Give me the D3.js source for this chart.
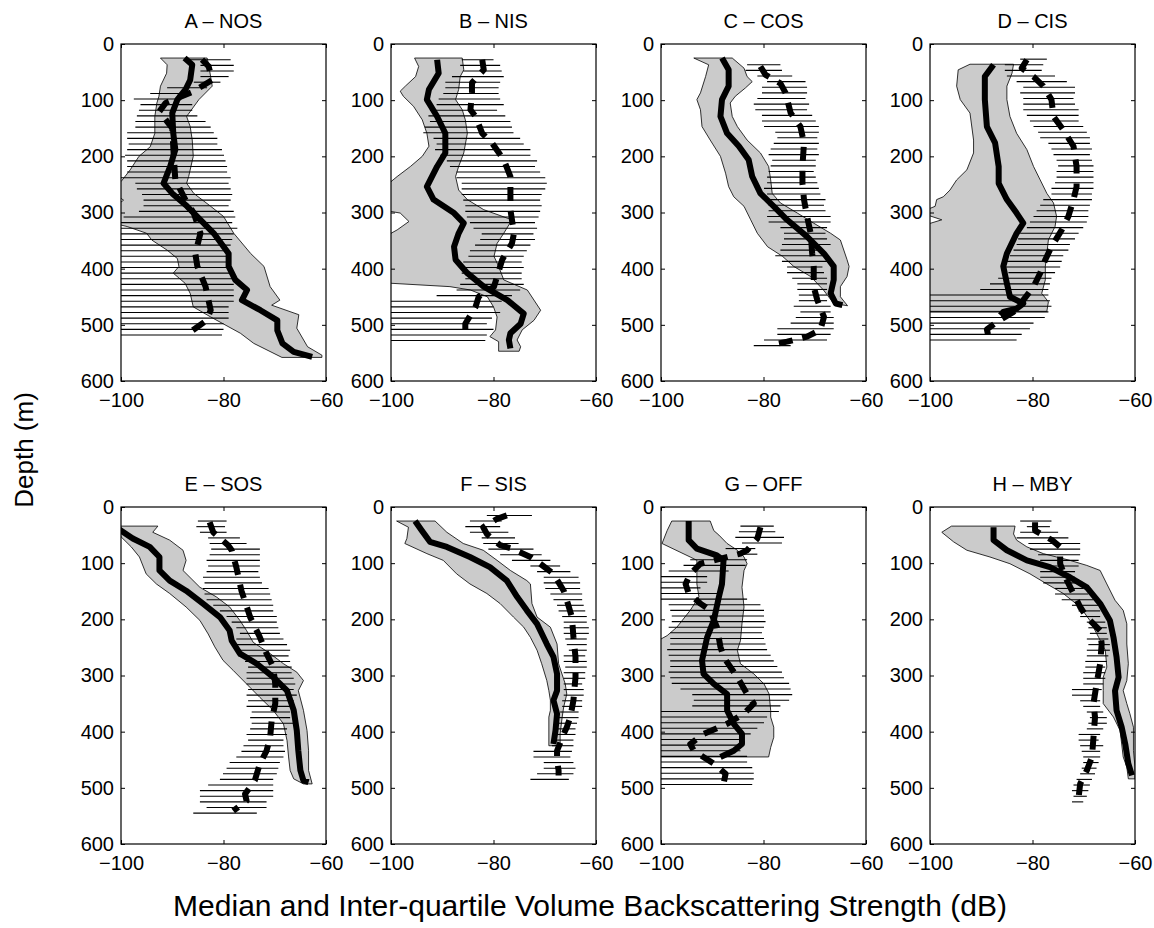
<!DOCTYPE html>
<html>
<head>
<meta charset="utf-8">
<script src="https://cdn.jsdelivr.net/npm/d3@7"></script>
<style>
body { margin: 0; background: #fff; }
svg text { font-family: "Liberation Sans", Arial, Helvetica, sans-serif; fill: #000; }
</style>
</head>
<body>
<svg id="chart" width="1154" height="928"></svg>
<script>
// panel titles
const titles = ["A \u2013 NOS", "B \u2013 NIS", "C \u2013 COS", "D \u2013 CIS",
                "E \u2013 SOS", "F \u2013 SIS", "G \u2013 OFF", "H \u2013 MBY"];
const xTicks = [-100, -80, -60];
const yTicks = [0, 100, 200, 300, 400, 500, 600];

// inter-quartile hatching (second series), one line per 10 m bin, first bin depth below
const hatchTop = [28, 28, 37, 27, 25, 15, 34, 25];
const hatchLo = [
  [-86.8,-84.5,-84.5,-84.5,-85.8,-91.0,-94.3,-97.5,-96.2,-96.5,
   -96.9,-97.2,-97.2,-98.8,-98.8,-98.5,-98.8,-99.2,-98.8,-98.8,
   -98.8,-100.1,-97.2,-96.9,-95.9,-95.6,-95.6,-96.5,-99.5,-101,
   -101,-101,-101,-101,-101,-101,-101,-101,-101,-101,
   -101,-101,-101,-101,-101,-101,-101,-101,-101,-101],
  [-86.2,-86.5,-85.9,-88.1,-89.4,-89.4,-89.8,-90.7,-91.1,-92.4,
   -92.7,-92.4,-93.4,-93.7,-91.7,-91.1,-91.4,-90.4,-89.1,-88.5,
   -87.2,-87.2,-86.2,-86.2,-86.2,-85.9,-85.5,-85.5,-85.2,-84.6,
   -83.9,-82.3,-82.6,-83.6,-84.6,-84.9,-85.9,-86.2,-86.2,-85.5,
   -86.5,-87.2,-91.1,-101,-101,-101,-101,-101,-101,-101,
   -101],
  [-83.2,-83.5,-81.2,-79.3,-80.3,-80.3,-81.2,-81.9,-81.6,-80.3,
   -80.3,-79.9,-77.7,-77.3,-78.0,-78.6,-79.0,-78.3,-78.6,-79.0,
   -79.3,-79.3,-79.9,-79.3,-79.3,-79.0,-79.0,-79.3,-79.0,-76.7,
   -76.0,-76.0,-76.4,-76.7,-77.7,-76.4,-75.4,-75.4,-74.4,-73.4,
   -73.4,-73.1,-73.1,-74.1,-72.8,-73.7,-74.7,-77.3,-77.3,-79.9,
   -81.9],
  [-82.4,-85.4,-85.4,-85.0,-83.1,-81.8,-82.4,-81.8,-81.8,-81.8,
   -81.1,-80.5,-79.8,-78.9,-78.5,-76.9,-76.3,-75.9,-75.3,-75.0,
   -75.3,-75.3,-75.6,-76.3,-76.3,-77.9,-78.5,-79.2,-79.8,-80.5,
   -81.1,-82.4,-82.8,-83.1,-83.7,-84.4,-85.0,-85.4,-84.7,-86.7,
   -88.3,-90.2,-101,-101,-101,-101,-101,-101,-101,-101,
   -101],
  [-85.0,-85.3,-84.6,-83.0,-82.7,-82.4,-82.7,-83.3,-83.0,-83.3,
   -84.0,-83.7,-84.0,-83.7,-83.3,-82.0,-80.7,-79.4,-78.4,-77.5,
   -76.8,-77.5,-77.5,-76.8,-77.1,-75.8,-75.2,-75.5,-75.5,-75.5,
   -75.2,-75.5,-75.2,-75.5,-74.5,-74.8,-74.5,-74.8,-75.5,-75.2,
   -76.1,-76.5,-77.5,-78.8,-79.4,-80.1,-80.7,-83.0,-84.6,-84.6,
   -84.6,-83.3,-85.9],
  [-81.3,-84.6,-85.5,-84.6,-82.3,-82.0,-81.0,-78.7,-76.4,-72.8,
   -71.5,-70.2,-70.2,-69.9,-68.9,-68.3,-67.6,-67.3,-66.6,-66.3,
   -66.3,-66.3,-66.0,-65.7,-65.3,-66.3,-66.3,-66.0,-66.3,-66.3,
   -66.3,-66.3,-66.3,-66.6,-66.6,-67.0,-67.3,-67.3,-67.6,-67.6,
   -68.3,-68.6,-72.2,-72.2,-70.2,-70.2,-71.5,-72.8],
  [-84.5,-84.8,-85.5,-84.2,-87.4,-84.5,-94.3,-95.6,-98.5,-101,
   -101,-101,-101,-101,-98.5,-98.2,-97.9,-97.9,-98.5,-98.2,
   -98.2,-98.2,-98.8,-98.5,-98.2,-98.2,-98.5,-98.2,-97.9,-96.2,
   -93.9,-93.6,-93.9,-101,-101,-101,-101,-101,-101,-101,
   -101,-101,-101,-101,-101,-101,-101],
  [-82.4,-81.1,-82.4,-83.1,-80.8,-80.5,-78.9,-78.5,-78.5,-78.5,
   -78.5,-77.9,-75.6,-75.6,-74.3,-72.3,-71.0,-70.7,-69.4,-69.1,
   -68.8,-69.4,-69.1,-69.4,-69.4,-69.7,-69.7,-70.1,-70.1,-70.1,
   -72.3,-72.3,-70.7,-70.1,-69.4,-68.8,-69.1,-69.4,-71.0,-71.0,
   -70.7,-70.4,-70.1,-70.1,-70.4,-70.7,-71.4,-72.0,-72.3,-72.0,
   -72.3]
];
const hatchHi = [
  [-78.6,-78.0,-78.0,-79.0,-80.6,-83.2,-87.1,-89.4,-86.1,-86.1,
   -85.1,-83.5,-82.5,-81.9,-81.2,-81.2,-80.3,-79.9,-79.6,-79.3,
   -79.3,-78.6,-79.0,-78.6,-78.3,-78.6,-79.0,-78.0,-77.7,-78.3,
   -77.3,-78.0,-78.3,-78.6,-79.0,-78.6,-79.0,-79.0,-78.3,-78.3,
   -78.0,-78.0,-78.0,-78.0,-79.0,-79.0,-79.0,-80.0,-80.0,-80.3],
  [-80.0,-78.7,-78.4,-78.0,-78.7,-79.0,-79.0,-78.7,-78.0,-79.3,
   -77.7,-76.7,-76.4,-76.1,-74.8,-74.1,-72.8,-72.8,-71.5,-71.9,
   -70.9,-69.9,-69.6,-69.9,-70.6,-70.9,-70.6,-70.9,-71.2,-71.9,
   -71.5,-72.2,-71.9,-72.8,-73.5,-74.1,-74.5,-74.1,-74.5,-74.5,
   -74.1,-74.8,-76.4,-78.4,-80.0,-78.7,-80.3,-81.3,-80.0,-81.3,
   -81.6],
  [-76.7,-76.4,-74.4,-71.8,-71.5,-71.5,-71.8,-71.1,-71.5,-70.5,
   -69.8,-69.2,-69.2,-69.5,-69.2,-69.5,-69.2,-69.8,-69.8,-70.2,
   -69.8,-69.5,-69.2,-68.9,-67.9,-68.2,-67.9,-66.9,-66.9,-67.6,
   -67.9,-67.6,-66.9,-68.5,-68.2,-67.6,-68.5,-68.2,-67.6,-67.6,
   -67.6,-67.6,-67.6,-66.9,-66.9,-66.3,-66.3,-66.3,-66.9,-67.6,
   -74.7],
  [-77.2,-77.9,-78.2,-75.6,-73.3,-71.7,-71.7,-72.0,-71.7,-71.0,
   -71.0,-71.0,-70.1,-69.4,-68.8,-68.8,-68.4,-68.8,-68.4,-68.1,
   -68.1,-68.1,-68.1,-68.1,-68.4,-68.4,-68.8,-69.1,-69.1,-69.4,
   -70.1,-71.0,-71.7,-72.7,-73.0,-74.0,-74.3,-74.6,-75.6,-76.3,
   -76.6,-76.9,-76.9,-76.6,-76.3,-76.9,-77.6,-79.8,-80.5,-82.1,
   -83.1],
  [-79.4,-79.7,-79.4,-76.8,-75.5,-72.9,-72.9,-72.9,-72.9,-73.2,
   -72.9,-72.5,-71.2,-70.9,-70.6,-70.3,-70.3,-69.6,-69.6,-69.3,
   -69.0,-68.3,-67.6,-67.0,-67.3,-67.0,-66.7,-66.7,-66.3,-66.0,
   -66.3,-65.7,-66.3,-67.0,-67.0,-67.0,-66.3,-67.6,-67.6,-68.3,
   -68.3,-68.0,-68.3,-69.0,-69.3,-69.6,-70.3,-70.3,-70.3,-70.3,
   -71.6,-71.6,-73.5],
  [-72.5,-78.4,-78.7,-77.1,-75.8,-75.1,-72.2,-70.6,-68.9,-67.0,
   -65.0,-63.4,-63.1,-63.1,-62.7,-62.7,-62.4,-62.1,-61.8,-61.8,
   -61.4,-61.4,-61.8,-61.8,-61.8,-62.1,-61.8,-61.8,-62.1,-62.1,
   -62.7,-62.4,-62.4,-62.7,-62.7,-63.4,-63.4,-63.7,-64.0,-64.0,
   -64.4,-64.4,-64.7,-65.0,-64.4,-64.0,-64.4,-65.3],
  [-78.0,-77.7,-76.0,-76.4,-81.6,-81.2,-83.2,-83.5,-86.8,-91.0,
   -91.0,-92.3,-88.4,-83.2,-80.6,-79.9,-79.9,-79.6,-79.9,-80.3,
   -79.9,-79.6,-79.3,-78.6,-78.0,-77.3,-76.4,-76.0,-75.0,-74.7,
   -74.4,-75.0,-76.7,-77.0,-79.3,-79.9,-81.2,-82.5,-83.8,-84.2,
   -84.5,-83.2,-83.2,-82.2,-81.9,-81.9,-82.2],
  [-76.3,-76.6,-75.0,-73.0,-70.7,-70.7,-70.7,-71.0,-71.0,-71.7,
   -71.7,-71.0,-70.1,-69.1,-68.1,-66.8,-66.8,-66.8,-65.8,-65.5,
   -65.5,-65.2,-64.9,-64.9,-65.2,-65.5,-65.8,-65.8,-65.8,-66.2,
   -66.5,-67.5,-66.8,-66.8,-66.2,-65.5,-65.5,-66.2,-66.8,-67.1,
   -66.2,-66.8,-66.8,-67.1,-67.5,-67.8,-68.4,-68.8,-69.1,-69.4,
   -70.1]
];

// grey inter-quartile band (first series): [depth, dB] along the low and high edges
const grayLo = [
  [[25,-92.3],[37,-91.0],[52,-91.1],[75,-92.3],[93,-92.6],[105,-93.0],[129,-93.4],[159,-93.4],[183,-94.3],[200,-96.5],[224,-98.2],[245,-100],[262,-102],[278,-99.5],[295,-102],[318,-102],[325,-98.8],[337,-95.0],[349,-94.0],[367,-91.0],[382,-89.0],[396,-88.7],[408,-89.8],[426,-87.5],[444,-86.5],[468,-85.9],[486,-82.5],[515,-76.7],[533,-74.1],[558,-68.6]],
  [[25,-95.4],[40,-94.6],[58,-95.2],[75,-97.2],[84,-98.2],[93,-97.6],[111,-95.6],[135,-93.9],[159,-93.0],[182,-92.6],[200,-93.9],[218,-96.2],[236,-98.8],[245,-100],[270,-102],[295,-102],[301,-98.2],[316,-96.5],[331,-98.8],[337,-100],[360,-102],[423,-102],[426,-100],[432,-88.5],[438,-84.5],[450,-81.2],[468,-80.0],[486,-79.3],[509,-79.6],[521,-80.7],[530,-79.0],[547,-79.0]],
  [[25,-93.6],[37,-90.7],[58,-91.3],[87,-92.3],[99,-93.0],[117,-92.3],[147,-92.0],[171,-90.4],[200,-88.4],[230,-87.4],[254,-86.8],[272,-85.8],[289,-83.8],[313,-82.5],[337,-81.2],[361,-79.2],[378,-76.3],[396,-74.1],[414,-70.8],[438,-68.3],[462,-66.3],[466,-63.6]],
  [[36,-92.2],[46,-94.5],[75,-94.8],[99,-94.1],[123,-92.2],[171,-91.5],[194,-91.5],[224,-92.8],[242,-94.8],[260,-96.1],[272,-97.4],[277,-98.7],[289,-99.0],[300,-102],[313,-97.7],[325,-102],[476,-102]],
  [[34,-101],[53,-100],[71,-98.0],[89,-96.4],[119,-95.1],[137,-93.1],[154,-90.5],[178,-87.3],[202,-84.6],[226,-83.0],[249,-81.7],[273,-80.1],[291,-78.1],[315,-75.5],[339,-72.9],[362,-70.3],[386,-68.3],[416,-67.6],[445,-67.3],[469,-67.0],[484,-66.3],[493,-64.4]],
  [[25,-98.9],[36,-96.6],[56,-96.9],[65,-97.3],[83,-93.0],[95,-89.8],[119,-87.2],[137,-84.6],[154,-81.3],[172,-78.7],[196,-76.1],[214,-74.1],[232,-72.8],[255,-71.5],[279,-70.6],[309,-69.6],[327,-69.2],[344,-68.9],[362,-68.9],[374,-69.2],[425,-69.2]],
  [[25,-97.9],[42,-98.8],[65,-99.8],[89,-94.3],[95,-93.0],[137,-93.0],[160,-92.6],[184,-94.3],[214,-96.9],[229,-98.8],[235,-100],[250,-102],[445,-102]],
  [[34,-95.8],[45,-97.7],[62,-95.4],[77,-92.8],[89,-88.3],[101,-84.4],[119,-80.5],[137,-77.2],[154,-74.0],[178,-70.7],[202,-68.8],[232,-67.1],[255,-65.8],[285,-65.5],[303,-66.2],[327,-66.2],[350,-66.2],[374,-64.2],[398,-62.9],[422,-62.6],[445,-62.3],[463,-61.6],[484,-61.3]]
];
const grayHi = [
  [[25,-83.2],[37,-82.9],[75,-82.2],[99,-84.8],[129,-87.2],[147,-86.5],[171,-86.1],[200,-85.9],[236,-86.8],[248,-87.2],[266,-85.8],[289,-82.5],[307,-80.0],[337,-78.0],[373,-74.7],[396,-72.1],[432,-70.9],[456,-69.0],[465,-70.6],[482,-65.3],[506,-65.7],[539,-63.6],[554,-60.8],[558,-60.8]],
  [[25,-86.1],[46,-85.8],[58,-86.5],[81,-86.8],[99,-87.4],[117,-86.1],[135,-85.5],[159,-85.1],[194,-85.8],[218,-86.8],[236,-87.4],[260,-86.8],[277,-85.1],[295,-81.9],[313,-76.4],[337,-78.0],[355,-79.3],[378,-79.9],[396,-79.0],[420,-78.0],[438,-73.4],[456,-72.1],[474,-70.8],[492,-72.1],[509,-74.4],[527,-75.4],[539,-74.7],[547,-75.0]],
  [[25,-86.1],[43,-83.8],[58,-83.2],[67,-82.2],[78,-83.5],[93,-85.5],[105,-86.5],[129,-86.1],[147,-85.1],[171,-83.2],[194,-80.6],[218,-79.0],[242,-78.6],[266,-78.3],[283,-76.7],[301,-73.4],[319,-70.2],[337,-66.9],[349,-65.0],[384,-63.7],[396,-63.3],[414,-63.7],[432,-65.0],[450,-65.0],[466,-63.6]],
  [[36,-83.7],[52,-84.0],[75,-85.0],[99,-85.0],[129,-84.4],[159,-83.1],[188,-81.1],[218,-79.8],[242,-78.5],[266,-77.2],[283,-75.9],[307,-75.3],[325,-75.6],[349,-76.9],[373,-77.2],[396,-77.5],[420,-77.5],[444,-78.2],[459,-76.9],[476,-77.2]],
  [[34,-92.8],[45,-93.8],[59,-90.5],[77,-87.9],[95,-87.3],[113,-87.9],[143,-84.6],[160,-81.4],[178,-78.8],[202,-76.8],[220,-75.5],[241,-74.2],[261,-70.9],[279,-68.3],[294,-65.7],[309,-64.4],[327,-65.4],[362,-64.4],[398,-63.7],[434,-63.4],[469,-63.4],[493,-62.7]],
  [[25,-91.4],[45,-89.1],[65,-85.9],[77,-82.0],[95,-79.3],[113,-76.7],[131,-73.5],[137,-72.8],[172,-72.5],[196,-71.5],[214,-68.9],[244,-67.6],[279,-67.3],[315,-66.0],[333,-65.7],[356,-66.3],[374,-66.6],[404,-67.0],[425,-67.0]],
  [[25,-90.4],[42,-89.7],[50,-88.7],[65,-87.1],[77,-85.1],[89,-83.8],[101,-83.2],[113,-83.8],[143,-84.2],[178,-83.8],[208,-84.2],[238,-84.5],[255,-85.1],[279,-84.5],[297,-81.9],[315,-79.9],[333,-78.9],[362,-78.6],[374,-78.6],[392,-78.0],[410,-78.0],[428,-78.6],[445,-79.0]],
  [[34,-83.4],[48,-83.7],[59,-83.1],[71,-81.1],[83,-77.9],[95,-72.7],[104,-69.4],[113,-66.8],[137,-65.5],[166,-63.9],[184,-62.3],[208,-61.6],[244,-61.6],[279,-61.3],[309,-61.6],[327,-62.3],[350,-61.6],[368,-61.0],[392,-60.3],[434,-60.3],[463,-60.0],[484,-60.0]]
];

// medians: solid = first series, dashed = second series
const solidMed = [
  [[25,-87.6],[37,-86.1],[64,-86.5],[81,-87.4],[99,-89.0],[123,-90.0],[159,-89.8],[188,-89.4],[218,-90.4],[248,-91.7],[266,-90.0],[289,-87.1],[313,-84.5],[337,-81.9],[373,-79.0],[396,-79.0],[420,-77.7],[438,-75.4],[456,-76.4],[474,-72.8],[492,-69.5],[510,-69.5],[533,-68.5],[548,-66.3],[557,-62.7]],
  [[28,-91.0],[52,-90.7],[81,-92.6],[99,-93.0],[129,-91.0],[159,-89.4],[194,-89.4],[218,-91.0],[254,-93.0],[277,-91.7],[301,-87.7],[319,-85.8],[337,-86.8],[361,-87.7],[384,-87.4],[408,-85.1],[432,-81.9],[456,-77.3],[480,-74.1],[498,-74.7],[515,-76.7],[527,-77.0],[542,-76.7]],
  [[25,-88.1],[46,-86.8],[75,-86.8],[99,-88.1],[129,-88.4],[159,-87.1],[182,-84.8],[206,-82.9],[236,-82.2],[266,-80.6],[289,-78.0],[313,-75.4],[343,-71.5],[373,-68.2],[396,-66.3],[420,-66.3],[444,-66.9],[462,-65.9],[465,-64.6]],
  [[37,-87.6],[58,-89.3],[99,-89.3],[147,-88.9],[176,-87.3],[218,-86.6],[248,-86.6],[277,-85.0],[301,-83.1],[319,-81.8],[337,-83.1],[373,-85.0],[396,-85.7],[426,-85.0],[450,-84.4],[462,-81.8],[471,-83.1],[477,-85.7],[483,-86.3]],
  [[39,-100.5],[56,-97.7],[71,-94.4],[89,-92.5],[113,-92.5],[131,-90.5],[149,-87.3],[172,-84.0],[196,-80.7],[220,-78.8],[238,-78.4],[261,-76.8],[279,-73.5],[303,-70.3],[327,-67.6],[362,-66.3],[398,-65.7],[434,-65.4],[469,-65.0],[487,-64.4],[490,-63.4]],
  [[25,-95.3],[42,-94.0],[62,-92.4],[71,-89.1],[89,-84.6],[107,-80.7],[131,-77.4],[160,-75.4],[184,-73.5],[208,-71.5],[244,-69.6],[267,-68.3],[297,-67.6],[327,-67.6],[344,-68.3],[368,-67.6],[398,-67.9],[422,-68.3]],
  [[25,-94.6],[59,-94.6],[74,-93.0],[86,-89.1],[95,-87.8],[137,-88.1],[160,-88.7],[202,-89.7],[232,-91.0],[273,-92.0],[297,-91.7],[315,-89.7],[333,-87.1],[362,-87.1],[386,-85.8],[404,-84.2],[422,-84.2],[434,-85.8],[445,-88.4]],
  [[36,-87.6],[59,-87.6],[77,-85.0],[95,-81.1],[107,-76.6],[125,-72.7],[143,-69.4],[172,-66.8],[202,-64.9],[232,-64.2],[267,-63.6],[303,-63.2],[327,-63.9],[362,-63.6],[392,-62.6],[422,-61.9],[457,-61.3],[478,-60.6]]
];
const dashMed = [
  [[28,-84.2],[40,-82.9],[64,-82.2],[85,-86.0],[105,-91.3],[120,-92.5],[150,-90.0],[200,-89.7],[242,-89.4],[278,-87.4],[301,-85.8],[337,-84.5],[373,-85.5],[396,-85.1],[432,-83.5],[474,-82.5],[492,-83.3],[515,-86.8]],
  [[28,-82.2],[46,-81.9],[69,-84.2],[87,-84.2],[117,-84.5],[129,-83.5],[159,-82.2],[176,-80.3],[206,-78.0],[236,-76.7],[260,-76.7],[295,-76.7],[313,-76.4],[337,-76.0],[355,-76.4],[384,-78.3],[414,-79.3],[432,-79.9],[450,-82.9],[468,-83.5],[498,-85.5],[521,-85.5]],
  [[40,-80.6],[55,-79.6],[70,-76.7],[87,-75.7],[123,-74.7],[147,-72.8],[176,-72.1],[218,-72.4],[248,-72.4],[277,-72.1],[307,-71.5],[337,-70.8],[373,-70.5],[396,-70.2],[432,-70.2],[456,-69.5],[486,-68.2],[509,-68.9],[521,-71.5],[530,-75.4],[533,-77.0]],
  [[28,-81.1],[43,-82.1],[58,-79.8],[75,-77.9],[99,-76.3],[129,-75.9],[153,-74.0],[182,-72.0],[218,-71.4],[254,-71.4],[277,-72.0],[307,-73.0],[331,-74.3],[361,-76.3],[384,-77.5],[408,-78.5],[432,-79.8],[456,-81.8],[477,-83.7],[495,-87.0],[508,-88.9],[521,-88.6]],
  [[27,-82.7],[45,-82.0],[68,-79.1],[77,-78.4],[107,-77.5],[149,-76.5],[196,-74.8],[232,-72.9],[261,-71.6],[285,-70.3],[315,-69.9],[350,-69.9],[380,-70.6],[410,-70.9],[434,-71.6],[457,-72.9],[487,-73.9],[511,-75.8],[523,-75.5],[541,-78.1]],
  [[15,-77.4],[21,-79.3],[36,-82.0],[48,-81.3],[68,-78.7],[74,-76.4],[89,-72.8],[101,-70.9],[119,-68.3],[149,-66.3],[166,-65.7],[196,-64.7],[232,-64.4],[267,-64.0],[303,-64.0],[344,-64.4],[374,-65.0],[392,-65.7],[404,-66.3],[434,-67.6],[451,-67.6],[469,-67.3],[478,-67.3]],
  [[36,-80.6],[56,-81.2],[77,-83.2],[83,-84.5],[101,-92.3],[119,-94.3],[137,-95.2],[154,-94.6],[172,-92.3],[184,-90.4],[214,-89.1],[249,-88.4],[267,-87.8],[303,-85.1],[333,-83.2],[350,-81.9],[368,-83.8],[386,-87.1],[404,-91.7],[422,-94.3],[434,-93.6],[457,-89.7],[475,-87.4],[493,-87.8]],
  [[27,-79.5],[42,-79.5],[59,-76.2],[71,-74.6],[101,-74.6],[125,-73.6],[149,-72.3],[178,-70.7],[196,-69.4],[220,-66.8],[244,-66.5],[279,-66.8],[315,-67.5],[350,-68.1],[374,-67.8],[410,-68.1],[445,-68.4],[469,-69.4],[493,-70.7],[517,-71.0]]
];

const svg = d3.select('#chart');
const panelLeft = [121, 391, 661, 930];
const panelTop = [44, 507];
const pw = 205, ph = 337;
const fontTick = 20;

const x = d3.scaleLinear().domain([-100, -60]).range([0, pw]);
const y = d3.scaleLinear().domain([0, 600]).range([0, ph]);
const line = d3.line().x(p => x(p[1])).y(p => y(p[0]));

titles.forEach((title, i) => {
    const g = svg.append('g')
        .attr('transform', `translate(${panelLeft[i % 4]},${panelTop[Math.floor(i / 4)]})`);

    // clip everything to the axes box
    g.append('clipPath').attr('id', 'clip' + i)
        .append('rect').attr('width', pw).attr('height', ph);
    const plot = g.append('g').attr('clip-path', `url(#clip${i})`);

    // grey band
    const poly = grayLo[i].concat(grayHi[i].slice().reverse());
    plot.append('path')
        .attr('d', line(poly) + 'Z')
        .attr('fill', '#cbcbcb')
        .attr('stroke', '#000')
        .attr('stroke-width', 0.8);

    // hatching
    const n = Math.min(hatchLo[i].length, hatchHi[i].length);
    const bins = d3.range(n).map(k => ({ d: hatchTop[i] + 10 * k, lo: hatchLo[i][k], hi: hatchHi[i][k] }));
    plot.selectAll('line.hatch')
        .data(bins)
        .enter()
        .append('line')
        .attr('class', 'hatch')
        .attr('x1', b => x(b.lo))
        .attr('x2', b => x(b.hi))
        .attr('y1', b => y(b.d))
        .attr('y2', b => y(b.d))
        .attr('stroke', '#000')
        .attr('stroke-width', 1.1);

    // medians
    plot.append('path')
        .attr('d', line(solidMed[i]))
        .attr('fill', 'none')
        .attr('stroke', '#000')
        .attr('stroke-width', 6)
        .attr('stroke-linejoin', 'round');
    plot.append('path')
        .attr('d', line(dashMed[i]))
        .attr('fill', 'none')
        .attr('stroke', '#000')
        .attr('stroke-width', 6)
        .attr('stroke-dasharray', '14,10')
        .attr('stroke-linejoin', 'round');

    // axes, ticks pointing inwards on all four sides
    const left = g.append('g').call(d3.axisLeft(y).tickValues(yTicks).tickSizeInner(-4).tickSizeOuter(0).tickPadding(7));
    const right = g.append('g').attr('transform', `translate(${pw},0)`)
        .call(d3.axisRight(y).tickValues(yTicks).tickSizeInner(-4).tickSizeOuter(0).tickFormat(''));
    const top = g.append('g')
        .call(d3.axisTop(x).tickValues(xTicks).tickSizeInner(-4).tickSizeOuter(0).tickFormat(''));
    const bottom = g.append('g').attr('transform', `translate(0,${ph})`)
        .call(d3.axisBottom(x).tickValues(xTicks).tickSizeInner(-4).tickSizeOuter(0).tickPadding(12));
    [left, right, top, bottom].forEach(a => {
        a.select('.domain').remove();
        a.selectAll('line').attr('stroke', '#000').attr('stroke-width', 1);
        a.selectAll('text').attr('font-size', fontTick).attr('font-family', null);
    });

    g.append('rect')
        .attr('width', pw).attr('height', ph)
        .attr('fill', 'none').attr('stroke', '#000').attr('stroke-width', 1.2);

    g.append('text')
        .attr('x', pw / 2).attr('y', -16)
        .attr('text-anchor', 'middle')
        .attr('font-size', 20)
        .text(title);
});

svg.append('text')
    .attr('transform', 'translate(33,450) rotate(-90)')
    .attr('text-anchor', 'middle')
    .attr('font-size', 26)
    .text('Depth (m)');

svg.append('text')
    .attr('x', 590).attr('y', 916)
    .attr('text-anchor', 'middle')
    .attr('font-size', 30)
    .text('Median and Inter-quartile Volume Backscattering Strength (dB)');
</script>
</body>
</html>
